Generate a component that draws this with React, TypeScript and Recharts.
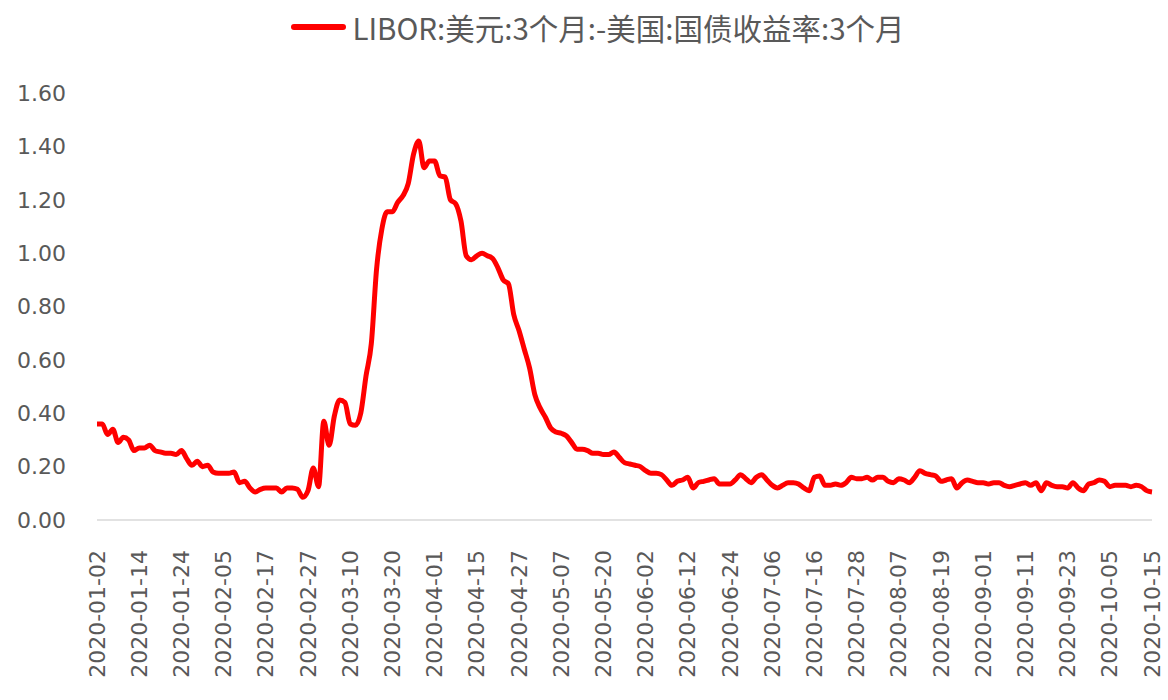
import { CartesianGrid, Line, LineChart, XAxis, YAxis } from "recharts";

const SERIES_NAME = "LIBOR:美元:3个月:-美国:国债收益率:3个月";

// LIBOR fixing days: weekdays minus UK bank holidays
const START_DATE = "2020-01-02";
const END_DATE = "2020-10-15";
const UK_HOLIDAYS = ["2020-04-10", "2020-04-13", "2020-05-08", "2020-05-25", "2020-08-31"];

const spreadValues = [
  0.36, 0.36, 0.32, 0.34, 0.29, 0.31, 0.3, 0.26, 0.27, 0.27,
  0.28, 0.26, 0.255, 0.25, 0.25, 0.245, 0.26, 0.23, 0.205, 0.22,
  0.2, 0.205, 0.18, 0.175, 0.175, 0.175, 0.18, 0.14, 0.145, 0.12,
  0.105, 0.115, 0.12, 0.12, 0.12, 0.105, 0.12, 0.12, 0.115, 0.085,
  0.11, 0.195, 0.125, 0.37, 0.28, 0.39, 0.45, 0.44, 0.36, 0.355,
  0.4, 0.54, 0.66, 0.94, 1.09, 1.155, 1.155, 1.19, 1.215, 1.26,
  1.37, 1.42, 1.32, 1.345, 1.345, 1.29, 1.285, 1.2, 1.185, 1.12,
  0.99, 0.975, 0.99, 1.0, 0.99, 0.98, 0.945, 0.9, 0.885, 0.77,
  0.71, 0.64, 0.57, 0.47, 0.42, 0.385, 0.345, 0.33, 0.325, 0.315,
  0.29, 0.265, 0.265, 0.26, 0.25, 0.25, 0.245, 0.245, 0.255, 0.235,
  0.215, 0.21, 0.205, 0.2, 0.185, 0.175, 0.175, 0.17, 0.15, 0.13,
  0.145, 0.15, 0.16, 0.12, 0.14, 0.145, 0.15, 0.155, 0.135, 0.135,
  0.135, 0.15, 0.17, 0.155, 0.14, 0.16, 0.17, 0.15, 0.13, 0.12,
  0.13, 0.14, 0.14, 0.135, 0.12, 0.11, 0.16, 0.165, 0.13, 0.13,
  0.135, 0.13, 0.14, 0.16, 0.155, 0.155, 0.16, 0.15, 0.16, 0.16,
  0.145, 0.14, 0.155, 0.15, 0.14, 0.16, 0.185, 0.175, 0.17, 0.165,
  0.145, 0.15, 0.155, 0.12, 0.14, 0.15, 0.145, 0.14, 0.14, 0.135,
  0.14, 0.14, 0.13, 0.125, 0.13, 0.135, 0.14, 0.13, 0.14, 0.11,
  0.14, 0.13, 0.125, 0.125, 0.12, 0.14, 0.12, 0.11, 0.135, 0.14,
  0.15, 0.145, 0.125, 0.13, 0.13, 0.13, 0.125, 0.13, 0.125, 0.11,
  0.105,
];

const yTicks = [0, 0.2, 0.4, 0.6, 0.8, 1.0, 1.2, 1.4, 1.6];

function buildTradingDays(start: string, end: string, holidays: string[]): string[] {
  const days: string[] = [];
  const cur = new Date(start + "T00:00:00Z");
  const last = new Date(end + "T00:00:00Z");
  while (cur.getTime() <= last.getTime()) {
    const dow = cur.getUTCDay();
    const iso = cur.toISOString().slice(0, 10);
    if (dow !== 0 && dow !== 6 && !holidays.includes(iso)) days.push(iso);
    cur.setUTCDate(cur.getUTCDate() + 1);
  }
  return days;
}

const dates = buildTradingDays(START_DATE, END_DATE, UK_HOLIDAYS);
const data = dates.map((date, i) => ({ date, spread: spreadValues[i] }));

const TEXT_COLOR = "#595959";
const TICK_FONT = "'DejaVu Sans', sans-serif";

function DateTick({ x, y, payload }: any) {
  return (
    <g transform={`translate(${x},${y})`}>
      <text
        transform="rotate(-90)"
        x={-22}
        y={0}
        textAnchor="end"
        dominantBaseline="central"
        fill={TEXT_COLOR}
        fontSize={22}
        fontFamily={TICK_FONT}
      >
        {payload.value}
      </text>
    </g>
  );
}

export default function App() {
  return (
    <div style={{ position: "relative", width: 1168, height: 700, background: "#fff" }}>
      <style>{"body{margin:0}"}</style>
      <div
        style={{
          position: "absolute",
          top: 7,
          left: 0,
          width: 1168,
          display: "flex",
          justifyContent: "center",
          alignItems: "center",
          paddingLeft: 28,
          boxSizing: "border-box",
          fontFamily: "'Noto Sans CJK SC', sans-serif",
          fontSize: 29.5,
          color: TEXT_COLOR,
          lineHeight: "40px",
        }}
      >
        <span
          style={{
            display: "inline-block",
            width: 55,
            height: 6,
            borderRadius: 3,
            background: "#FF0000",
            marginRight: 6,
          }}
        />
        <span>{SERIES_NAME}</span>
      </div>
      <LineChart
        width={1168}
        height={700}
        data={data}
        margin={{ top: 93, right: 16, bottom: 0, left: 0 }}
      >
        <CartesianGrid vertical={false} horizontal={false} />
        <XAxis
          dataKey="date"
          interval={7}
          height={180}
          tickLine={false}
          axisLine={{ stroke: "#d9d9d9", strokeWidth: 1.5 }}
          tick={<DateTick />}
        />
        <YAxis
          domain={[0, 1.6]}
          ticks={yTicks}
          width={97}
          axisLine={false}
          tickLine={false}
          tickMargin={25}
          tickFormatter={(v) => Number(v).toFixed(2)}
          tick={{ fill: TEXT_COLOR, fontSize: 22, fontFamily: TICK_FONT }}
        />
        <Line
          type="monotone"
          dataKey="spread"
          stroke="#FF0000"
          strokeWidth={5}
          dot={false}
          isAnimationActive={false}
        />
      </LineChart>
    </div>
  );
}
